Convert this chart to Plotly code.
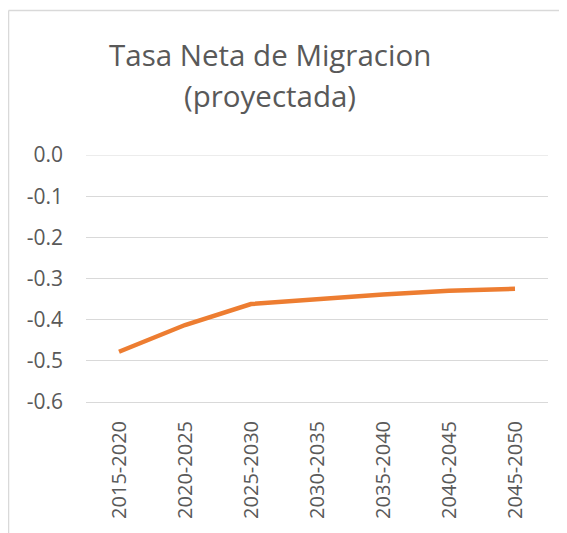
import plotly.graph_objects as go

periods = ["2015-2020", "2020-2025", "2025-2030", "2030-2035", "2035-2040", "2040-2045", "2045-2050"]
tasa_neta = [-0.478, -0.413, -0.362, -0.350, -0.339, -0.330, -0.325]
y_ticks = [0.0, -0.1, -0.2, -0.3, -0.4, -0.5, -0.6]
y_tick_labels = ["0.0", "-0.1", "-0.2", "-0.3", "-0.4", "-0.5", "-0.6"]
title_lines = ["Tasa Neta de Migracion", "(proyectada)"]

gray = "#595959"
grid = "#d9d9d9"
FONT = "Open Sans, Liberation Sans, sans-serif"

fig = go.Figure()
fig.add_trace(go.Scatter(
    x=periods, y=tasa_neta, mode="lines",
    line=dict(color="#ED7D31", width=4.5),
    showlegend=False, hoverinfo="x+y",
))

fig.update_layout(
    width=559, height=525,
    margin=dict(l=78, r=19, t=147, b=131),
    paper_bgcolor="white", plot_bgcolor="white",
    font=dict(family=FONT, color=gray, size=20),
    xaxis=dict(
        type="category", tickangle=-90, showgrid=False,
        showline=True, linecolor=grid, linewidth=1,
        ticks="", ticklabelstandoff=10,
        tickfont=dict(size=20, color=gray),
        range=[-0.5, 6.5], fixedrange=True,
    ),
    yaxis=dict(
        range=[-0.6, 0.0], tickvals=y_ticks, ticktext=y_tick_labels,
        showgrid=True, gridcolor=grid, gridwidth=1,
        zeroline=False, showline=False, ticks="",
        ticklabelstandoff=22,
        tickfont=dict(size=21, color=gray), fixedrange=True,
    ),
)

for txt, yp in zip(title_lines, [1.405, 1.24]):
    fig.add_annotation(text=txt, xref="paper", yref="paper", x=0.398, y=yp,
                       xanchor="center", yanchor="middle", showarrow=False,
                       font=dict(size=29.5, color=gray, family=FONT))

# top gridline at 0.0 (plotly drops the grid line at the range edge)
fig.add_shape(type="line", xref="paper", yref="y", x0=0, x1=1,
              y0=y_ticks[0], y1=y_ticks[0], layer="below",
              line=dict(color=grid, width=1))

# chart-area border (top and left visible in reference)
fig.add_shape(type="line", xref="paper", yref="paper",
              x0=-0.1677, x1=-0.1677, y0=-0.6, y1=1.585,
              line=dict(color=grid, width=1.5))
fig.add_shape(type="line", xref="paper", yref="paper",
              x0=-0.1677, x1=1.1, y0=1.585, y1=1.585,
              line=dict(color=grid, width=1.5))

fig.write_html("out.html")
